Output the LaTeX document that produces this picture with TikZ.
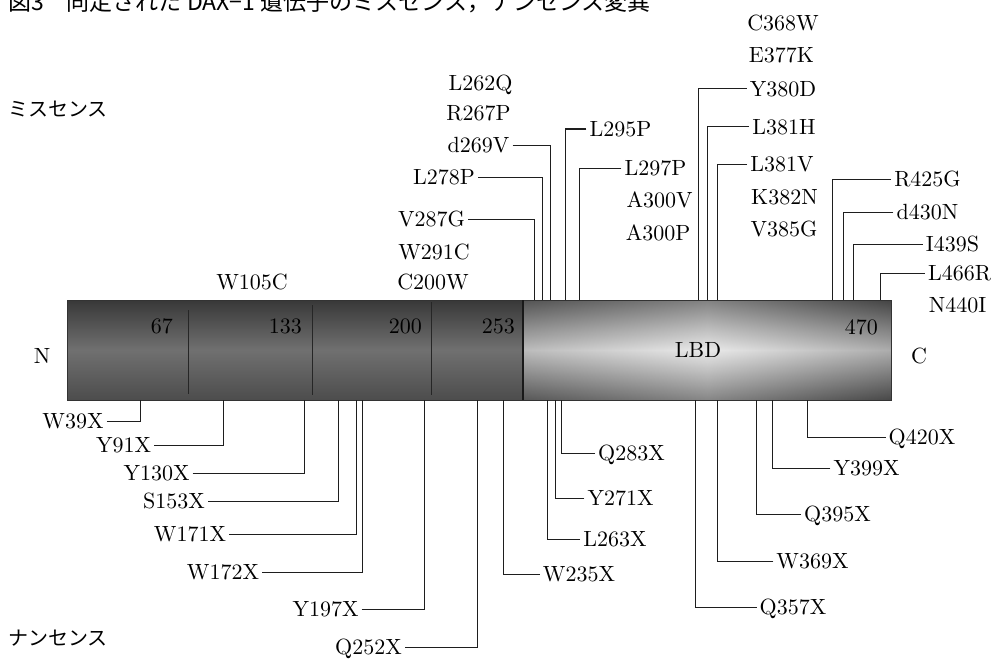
\documentclass[tikz,border=0pt]{standalone}
\usepackage{fontspec}
\usepackage{tikz}
\newfontfamily\jpfont{Noto Sans CJK JP}
\newfontfamily\labelfamily{lmroman10-regular}[Extension=.otf]
\newcommand\mutfont{\labelfamily\fontsize{22}{24}\selectfont}
\newcommand\jplabelfont{\jpfont\fontsize{20}{22}\selectfont}
\definecolor{domain}{RGB}{112, 112, 112}
\definecolor{lbdlight}{RGB}{225, 225, 225}
\definecolor{leadline}{RGB}{30, 30, 30}

\begin{document}
\begin{tikzpicture}[
    x=1pt, y=-1pt,
    mut/.style={font=\mutfont, inner sep=3pt, text height=15pt, text depth=0pt},
    num/.style={font=\mutfont, inner sep=0pt, anchor=east, text height=15pt, text depth=0pt},
    jp/.style={font=\jplabelfont, inner sep=0pt, anchor=west},
    lead/.style={draw=leadline, line width=1pt}
  ]
  \useasboundingbox (0,0) rectangle (995,658);

  % Title
  \node[anchor=base west, inner sep=0pt, font=\jpfont\fontsize{23}{25}\selectfont] (title) at (8,11)
    {図3　同定された DAX−1 遺伝子のミスセンス，ナンセンス変異};

  % Side captions
  \node[jp] (missense) at (8,109) {ミスセンス};
  \node[jp] (nonsense) at (8,638) {ナンセンス};

  % Protein bar
  \shade[top color=black!78, bottom color=black!70, middle color=domain] (67,300) rectangle (523,400);
  \shade[top color=black!70, bottom color=black!68, middle color=lbdlight] (523,300) rectangle (891,400);
  \shade[left color=black!60, right color=black!80, middle color=white, opacity=0.3] (523,300) rectangle (891,400);
  \draw[black!80, line width=0.8pt] (67,300) rectangle (891,400);

  % Domain borders
  \draw[black!85, line width=0.8pt] (188,310) -- (188,394);
  \draw[black!85, line width=0.8pt] (312,305) -- (312,395);
  \draw[black!85, line width=0.8pt] (431,302) -- (431,395);
  \draw[black!90, line width=1.6pt] (523,300) -- (523,400);

  \node[num] (n67) at (173,326) {67};
  \node[num] (n133) at (302,326) {133};
  \node[num] (n200) at (422,326) {200};
  \node[num] (n253) at (515,326) {253};
  \node[num] (n470) at (878,327) {470};
  \node[mut] (lbd) at (698,350) {LBD};
  \node[mut] (nterm) at (42,356) {N};
  \node[mut] (cterm) at (919,356) {C};

  % Mutation sites on the bar
  \foreach \s in {534,542,550,565,579,698,707,717,832,843,853,880} {
    \coordinate (u\s) at (\s,300);
  }
  \foreach \s in {140,223,304,338,356,362,424,477,503,547,555,561,695,717,756,772,807} {
    \coordinate (d\s) at (\s,400);
  }

  % Missense mutations
  \node[mut] (L262Q) at (480.5,83) {L262Q};
  \node[mut] (R267P) at (478.5,113) {R267P};
  \node[mut] (d269V) at (478.5,145) {d269V};
  \node[mut] (L278P) at (444,177) {L278P};
  \node[mut] (V287G) at (431.5,219) {V287G};
  \node[mut] (W291C) at (434,252) {W291C};
  \node[mut] (C200W) at (433,282) {C200W};
  \node[mut] (W105C) at (252,282) {W105C};
  \node[mut] (L295P) at (620.5,129) {L295P};
  \node[mut] (L297P) at (655.5,168) {L297P};
  \node[mut] (A300V) at (659.5,200) {A300V};
  \node[mut] (A300P) at (658,233) {A300P};
  \node[mut] (C368W) at (783,23) {C368W};
  \node[mut] (E377K) at (781.5,55) {E377K};
  \node[mut] (Y380D) at (783,89) {Y380D};
  \node[mut] (L381H) at (784,127) {L381H};
  \node[mut] (L381V) at (782,164) {L381V};
  \node[mut] (K382N) at (784.5,197) {K382N};
  \node[mut] (V385G) at (784,229) {V385G};
  \node[mut] (R425G) at (927.5,179) {R425G};
  \node[mut] (d430N) at (927.5,212) {d430N};
  \node[mut] (I439S) at (952.5,244) {I439S};
  \node[mut] (L466R) at (959.5,273) {L466R};
  \node[mut] (N440I) at (957.5,305) {N440I};

  \draw[lead] (d269V.east) -| (u550);
  \draw[lead] (L278P.east) -| (u542);
  \draw[lead] (V287G.east) -| (u534);
  \draw[lead] (L295P.west) -| (u565);
  \draw[lead] (L297P.west) -| (u579);
  \draw[lead] (Y380D.west) -| (u698);
  \draw[lead] (L381H.west) -| (u707);
  \draw[lead] (L381V.west) -| (u717);
  \draw[lead] (R425G.west) -| (u832);
  \draw[lead] (d430N.west) -| (u843);
  \draw[lead] (I439S.west) -| (u853);
  \draw[lead] (L466R.west) -| (u880);

  % Nonsense mutations
  \node[mut] (W39X) at (73,421) {W39X};
  \node[mut] (Y91X) at (123.5,445) {Y91X};
  \node[mut] (Y130X) at (156.5,473) {Y130X};
  \node[mut] (S153X) at (174,501) {S153X};
  \node[mut] (W171X) at (190,534) {W171X};
  \node[mut] (W172X) at (223,572) {W172X};
  \node[mut] (Y197X) at (325.5,609) {Y197X};
  \node[mut] (Q252X) at (368.5,647) {Q252X};
  \node[mut] (W235X) at (579,574) {W235X};
  \node[mut] (L263X) at (615,539) {L263X};
  \node[mut] (Y271X) at (620.5,498) {Y271X};
  \node[mut] (Q283X) at (631.5,453) {Q283X};
  \node[mut] (Q357X) at (793,607) {Q357X};
  \node[mut] (W369X) at (812.5,561) {W369X};
  \node[mut] (Q395X) at (837.5,514) {Q395X};
  \node[mut] (Y399X) at (866.5,468) {Y399X};
  \node[mut] (Q420X) at (922,437) {Q420X};

  \draw[lead] (W39X.east) -| (d140);
  \draw[lead] (Y91X.east) -| (d223);
  \draw[lead] (Y130X.east) -| (d304);
  \draw[lead] (S153X.east) -| (d338);
  \draw[lead] (W171X.east) -| (d356);
  \draw[lead] (W172X.east) -| (d362);
  \draw[lead] (Y197X.east) -| (d424);
  \draw[lead] (Q252X.east) -| (d477);
  \draw[lead] (W235X.west) -| (d503);
  \draw[lead] (L263X.west) -| (d547);
  \draw[lead] (Y271X.west) -| (d555);
  \draw[lead] (Q283X.west) -| (d561);
  \draw[lead] (Q357X.west) -| (d695);
  \draw[lead] (W369X.west) -| (d717);
  \draw[lead] (Q395X.west) -| (d756);
  \draw[lead] (Y399X.west) -| (d772);
  \draw[lead] (Q420X.west) -| (d807);

\end{tikzpicture}
\end{document}
